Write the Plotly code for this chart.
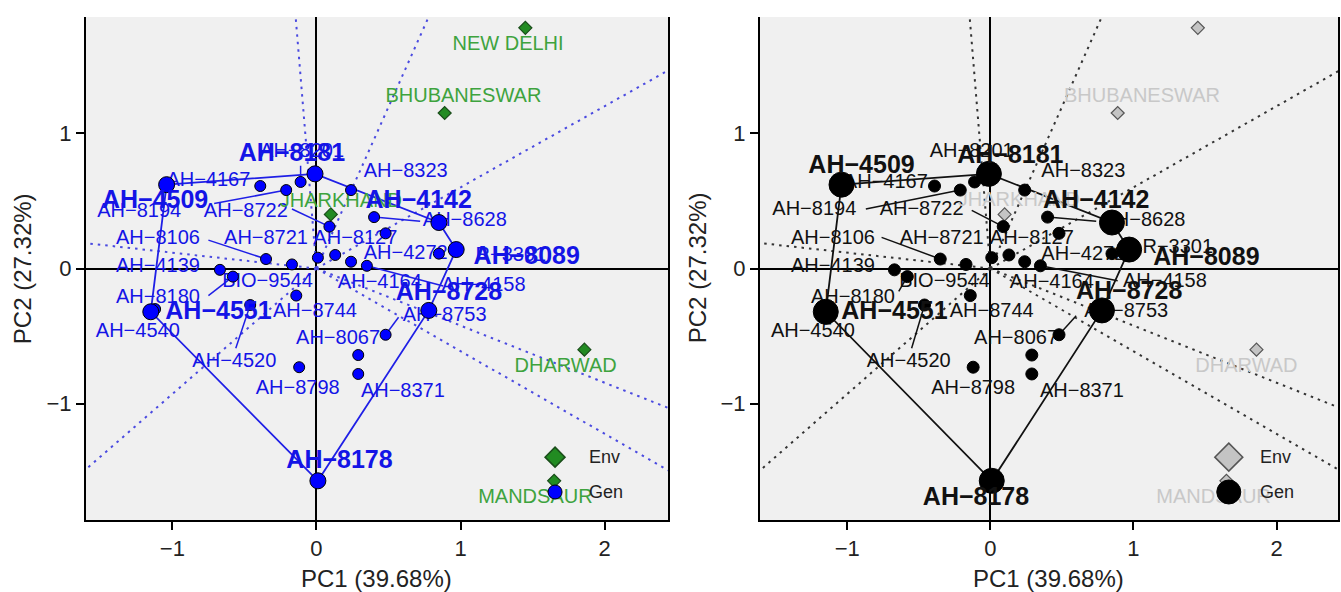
import plotly.graph_objects as go
import math

# ---------------- data ----------------
gen_names = ["AH-4509", "AH-8181", "AH-4142", "AH-8089", "AH-8728", "AH-8178", "AH-4551",
             "AH-8201", "AH-4167", "AH-8194", "AH-8722", "AH-8323", "AH-8628", "AH-8127",
             "AH-4272", "AH-8106", "AH-8721", "BIO-9544", "R-3301", "AH-4164", "AH-4158",
             "AH-4139", "AH-8180", "AH-8744", "AH-4520", "AH-4540", "AH-8753", "AH-8067",
             "AH-8371", "AH-8798"]
gen_pc1 = [-1.04, -0.01, 0.85, 0.97, 0.78, 0.01, -1.15,
           -0.11, -0.39, -0.21, 0.09, 0.24, 0.40, 0.48,
           0.85, -0.35, -0.17, 0.01, 0.13, 0.24, 0.35,
           -0.67, -0.58, -0.14, -0.46, -1.12, 0.48, 0.29,
           0.29, -0.12]
gen_pc2 = [0.62, 0.70, 0.34, 0.14, -0.31, -1.57, -0.32,
           0.64, 0.61, 0.58, 0.31, 0.58, 0.38, 0.26,
           0.11, 0.07, 0.03, 0.08, 0.10, 0.05, 0.02,
           -0.01, -0.06, -0.20, -0.27, -0.30, -0.49, -0.64,
           -0.78, -0.73]
hull_names = ["AH-4509", "AH-8181", "AH-4142", "AH-8089", "AH-8728", "AH-8178", "AH-4551"]

env_names = ["NEW DELHI", "BHUBANESWAR", "JHARKHAND", "DHARWAD", "MANDSAUR"]
env_pc1 = [1.45, 0.89, 0.10, 1.86, 1.65]
env_pc2 = [1.78, 1.15, 0.40, -0.60, -1.57]

x_ticks = [-1, 0, 1, 2]
y_ticks = [-1, 0, 1]
x_title = "PC1 (39.68%)"
y_title = "PC2 (27.32%)"
legend_items = ["Env", "Gen"]

# ---------------- layout of labels (positions only) ----------------
LABELS_L = {
    "NEW DELHI": (1.33, 1.65), "BHUBANESWAR": (1.02, 1.27), "JHARKHAND": (0.17, 0.49),
    "DHARWAD": (1.73, -0.73), "MANDSAUR": (1.52, -1.70),
    "AH-8181": (-0.17, 0.84), "AH-8201": (-0.10, 0.86), "AH-8323": (0.62, 0.71),
    "AH-4167": (-0.75, 0.65), "AH-4509": (-1.12, 0.49), "AH-8194": (-1.23, 0.42),
    "AH-8722": (-0.49, 0.42), "AH-4142": (0.71, 0.49), "AH-8628": (1.03, 0.35),
    "AH-8106": (-1.10, 0.22), "AH-8721": (-0.35, 0.22), "AH-8127": (0.27, 0.22),
    "AH-4272": (0.62, 0.11), "R-3301": (1.35, 0.09), "AH-8089": (1.46, 0.08),
    "AH-4139": (-1.10, 0.01), "BIO-9544": (-0.34, -0.10), "AH-4164": (0.44, -0.11),
    "AH-4158": (1.16, -0.13), "AH-8728": (0.92, -0.19), "AH-8180": (-1.10, -0.22),
    "AH-4551": (-0.68, -0.33), "AH-8744": (-0.01, -0.32), "AH-8753": (0.89, -0.35),
    "AH-4540": (-1.24, -0.47), "AH-8067": (0.15, -0.52), "AH-4520": (-0.57, -0.69),
    "AH-8798": (-0.13, -0.89), "AH-8371": (0.60, -0.91), "AH-8178": (0.16, -1.43),
}
LABELS_R = {
    "NEW DELHI": (1.64, 1.91), "BHUBANESWAR": (1.06, 1.27), "JHARKHAND": (0.20, 0.50),
    "DHARWAD": (1.79, -0.73), "MANDSAUR": (1.56, -1.70),
    "AH-8181": (0.14, 0.83), "AH-8201": (-0.13, 0.86), "AH-8323": (0.65, 0.71),
    "AH-4509": (-0.90, 0.75), "AH-4167": (-0.73, 0.63), "AH-8194": (-1.23, 0.43),
    "AH-8722": (-0.48, 0.43), "AH-4142": (0.74, 0.49), "AH-8628": (1.07, 0.35),
    "AH-8106": (-1.10, 0.22), "AH-8721": (-0.34, 0.22), "AH-8127": (0.29, 0.22),
    "AH-4272": (0.65, 0.10), "R-3301": (1.31, 0.15), "AH-8089": (1.51, 0.07),
    "AH-4139": (-1.10, 0.01), "BIO-9544": (-0.32, -0.10), "AH-4164": (0.43, -0.11),
    "AH-4158": (1.22, -0.10), "AH-8728": (0.97, -0.18), "AH-8180": (-0.96, -0.22),
    "AH-4551": (-0.67, -0.33), "AH-8744": (0.01, -0.32), "AH-8753": (0.95, -0.32),
    "AH-4540": (-1.24, -0.47), "AH-8067": (0.18, -0.52), "AH-4520": (-0.57, -0.69),
    "AH-8798": (-0.12, -0.89), "AH-8371": (0.64, -0.91), "AH-8178": (-0.10, -1.70),
}
LEADERS_L = {
    "AH-8194": (-0.71, 0.48), "AH-8722": (-0.17, 0.44), "AH-8106": (-0.75, 0.21),
    "AH-8628": (0.72, 0.35), "AH-4158": (0.88, -0.13), "AH-8180": (-0.75, -0.20),
    "AH-4520": (-0.56, -0.59), "AH-8753": (0.57, -0.36), "AH-8201": (-0.11, 0.76),
}
LEADERS_R = {
    "AH-8194": (-0.87, 0.44), "AH-8722": (-0.13, 0.43), "AH-8106": (-0.76, 0.23),
    "AH-8628": (0.74, 0.35), "AH-4158": (0.89, -0.09), "AH-8180": (-0.64, -0.17),
    "AH-4520": (-0.55, -0.59), "AH-8753": (0.60, -0.35),
}

FONT = "Liberation Sans, Arial, sans-serif"
STYLES = [
    dict(gen="#0000ff", gen_line="#000000", gen_text="#1414e6", env_fill="#228b22",
         env_line="#1a4d1a", env_text="#3ea33e", ray="#4a4ae0", poly="#1f1fe6",
         big=16, small=11, leg_d=10, leg_c=7, labels=LABELS_L, leaders=LEADERS_L),
    dict(gen="#000000", gen_line="#000000", gen_text="#111111", env_fill="#c4c4c4",
         env_line="#555555", env_text="#c8c8c8", ray="#333333", poly="#111111",
         big=25, small=12, leg_d=14, leg_c=12, labels=LABELS_R, leaders=LEADERS_R),
]

gx = dict(zip(gen_names, gen_pc1))
gy = dict(zip(gen_names, gen_pc2))

fig = go.Figure()

for k, st in enumerate(STYLES):
    xa = "x" if k == 0 else "x2"
    ya = "y" if k == 0 else "y2"
    common = dict(xaxis=xa, yaxis=ya, showlegend=False, hoverinfo="skip")

    # sector rays: perpendicular from origin to each polygon edge
    hx = [gx[n] for n in hull_names]
    hy = [gy[n] for n in hull_names]
    rx, ry = [], []
    m = len(hull_names)
    for i in range(m):
        x1, y1 = hx[i], hy[i]
        x2, y2 = hx[(i + 1) % m], hy[(i + 1) % m]
        nx, ny = (y2 - y1), -(x2 - x1)
        if nx * x1 + ny * y1 < 0:
            nx, ny = -nx, -ny
        L = math.hypot(nx, ny)
        rx += [0, nx / L * 6, None]
        ry += [0, ny / L * 6, None]
    fig.add_trace(go.Scatter(x=rx, y=ry, mode="lines",
                             line=dict(color=st["ray"], width=2, dash="2.5px,5px"), **common))

    # polygon
    fig.add_trace(go.Scatter(x=hx + [hx[0]], y=hy + [hy[0]], mode="lines",
                             line=dict(color=st["poly"], width=1.8), **common))

    # leader segments
    lx, ly = [], []
    for n, (sx, sy) in st["leaders"].items():
        lx += [sx, gx[n], None]
        ly += [sy, gy[n], None]
    fig.add_trace(go.Scatter(x=lx, y=ly, mode="lines",
                             line=dict(color=st["poly"], width=1.5), **common))

    labs = st["labels"]
    small = [n for n in gen_names if n not in hull_names]
    # small genotype labels
    fig.add_trace(go.Scatter(x=[labs[n][0] for n in small], y=[labs[n][1] for n in small],
                             text=[n.replace("-", "\u2212") for n in small], mode="text",
                             textposition="middle center", cliponaxis=False,
                             textfont=dict(family=FONT, size=20, color=st["gen_text"]), **common))
    # environment labels
    fig.add_trace(go.Scatter(x=[labs[n][0] for n in env_names], y=[labs[n][1] for n in env_names],
                             text=env_names, mode="text", textposition="middle center",
                             cliponaxis=False,
                             textfont=dict(family=FONT, size=20, color=st["env_text"]), **common))
    # environment markers
    fig.add_trace(go.Scatter(x=env_pc1, y=env_pc2, mode="markers", cliponaxis=False,
                             marker=dict(symbol="diamond", size=10, color=st["env_fill"],
                                         line=dict(color=st["env_line"], width=1.2)), **common))
    # genotype markers
    fig.add_trace(go.Scatter(x=[gx[n] for n in small], y=[gy[n] for n in small], mode="markers",
                             marker=dict(size=st["small"], color=st["gen"],
                                         line=dict(color=st["gen_line"], width=1)), **common))
    fig.add_trace(go.Scatter(x=hx, y=hy, mode="markers",
                             marker=dict(size=st["big"], color=st["gen"],
                                         line=dict(color=st["gen_line"], width=1)), **common))
    # vertex labels
    fig.add_trace(go.Scatter(x=[labs[n][0] for n in hull_names], y=[labs[n][1] for n in hull_names],
                             text=[n.replace("-", "\u2212") for n in hull_names], mode="text",
                             textposition="middle center", cliponaxis=False,
                             textfont=dict(family=FONT, size=25, color=st["gen_text"], weight="bold"),
                             **common))

# ---------------- axes ----------------
axis_common = dict(showgrid=False, zeroline=True, zerolinecolor="#000000", zerolinewidth=1.8,
                   showline=True, linecolor="#000000", linewidth=2, ticks="outside",
                   ticklen=8, tickwidth=1.6, tickcolor="#000000",
                   tickfont=dict(family=FONT, size=22, color="#222222"), fixedrange=True)
ydom = [0.1216, 0.9713]
fig.update_layout(
    xaxis=dict(axis_common, domain=[0.0641, 0.4981], range=[-1.60, 2.44], tickvals=x_ticks,
               mirror=False, anchor="y"),
    yaxis=dict(axis_common, domain=ydom, range=[-1.86, 1.86], tickvals=y_ticks, mirror=True,
               anchor="x"),
    xaxis2=dict(axis_common, domain=[0.5667, 0.9978], range=[-1.61, 2.43], tickvals=x_ticks,
                mirror=False, anchor="y2"),
    yaxis2=dict(axis_common, domain=ydom, range=[-1.86, 1.86], tickvals=y_ticks, mirror=True,
                anchor="x2"),
    width=1341, height=592, margin=dict(l=0, r=0, t=0, b=0),
    paper_bgcolor="#ffffff", plot_bgcolor="#f0f0f0", showlegend=False,
)

# axis titles
anns = []
for cx in [0.2811, 0.7822]:
    anns.append(dict(text=x_title, x=cx, y=(592 - 578) / 592, xref="paper", yref="paper",
                     showarrow=False, xanchor="center", yanchor="middle",
                     font=dict(family=FONT, size=24, color="#222222")))
for cx in [0.0164, 0.5198]:
    anns.append(dict(text=y_title, x=cx, y=0.547, xref="paper", yref="paper", showarrow=False,
                     xanchor="center", yanchor="middle", textangle=-90,
                     font=dict(family=FONT, size=24, color="#222222")))

# legends (drawn inside panels)
shapes = []
leg_pos = [(0.806, 0.861), (0.811, 0.862)]
for k, st in enumerate(STYLES):
    xr = "x domain" if k == 0 else "x2 domain"
    yr = "y domain" if k == 0 else "y2 domain"
    sx, tx = leg_pos[k]
    d = st["leg_d"]
    c = st["leg_c"]
    shapes.append(dict(type="path", xref=xr, yref=yr, xsizemode="pixel", ysizemode="pixel",
                       xanchor=sx, yanchor=0.125,
                       path=f"M 0,{d} L {d},0 L 0,{-d} L {-d},0 Z",
                       fillcolor=st["env_fill"], line=dict(color=st["env_line"], width=1.5),
                       layer="above"))
    shapes.append(dict(type="circle", xref=xr, yref=yr, xsizemode="pixel", ysizemode="pixel",
                       xanchor=sx, yanchor=0.0557, x0=-c, x1=c, y0=-c, y1=c,
                       fillcolor=st["gen"], line=dict(color="#000000", width=1), layer="above"))
    for item, yy in zip(legend_items, [0.125, 0.0557]):
        anns.append(dict(text=item, x=tx, y=yy, xref=xr, yref=yr, xanchor="left",
                         yanchor="middle", showarrow=False,
                         font=dict(family=FONT, size=18, color="#222222")))

fig.update_layout(annotations=anns, shapes=shapes)
fig.write_html("out.html")
